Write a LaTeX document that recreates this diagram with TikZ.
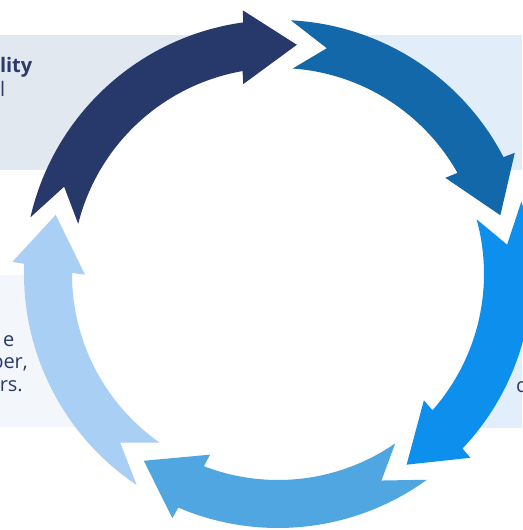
\documentclass[tikz,border=0pt]{standalone}
\usepackage{fontspec}
\setmainfont{Open Sans}
\definecolor{arrNavy}{RGB}{39,56,107}
\definecolor{arrSteel}{RGB}{18,104,168}
\definecolor{arrBright}{RGB}{13,143,237}
\definecolor{arrMid}{RGB}{79,166,224}
\definecolor{arrLight}{RGB}{170,207,245}
\definecolor{boxTL}{RGB}{225,232,240}
\definecolor{boxTR}{RGB}{225,237,248}
\definecolor{boxBL}{RGB}{243,247,252}
\definecolor{boxBR}{RGB}{226,238,251}
\definecolor{txtNavy}{RGB}{43,58,104}
% #1 colour, #2 tail angle, #3 tip angle (clockwise travel)
\newcommand\ringarrow[3]{%
  \fill[#1] (#2+0.6:254pt)
    arc[start angle=#2+0.6, end angle=#3+12.6, radius=254pt]
    -- (#3+12.3:266pt) -- (#3:230pt) -- (#3+15.1:193pt) -- (#3+14.6:206pt)
    arc[start angle=#3+14.6, end angle=#2-0.6, radius=206pt]
    -- (#2-8.7:231pt) -- cycle;}
\begin{document}
\begin{tikzpicture}[x=1pt,y=1pt,
  txt/.style={font=\fontsize{20}{24}\selectfont, text=txtNavy, inner sep=0pt}]
\useasboundingbox (0,0) rectangle (522,530);
% background boxes
\fill[boxTL] (0,360) rectangle (278,495);
\fill[boxTR] (278,360) rectangle (522,495);
\fill[boxBL] (0,103) rectangle (278,255);
\fill[boxBR] (278,102) rectangle (522,255);
% texts
\node[txt, anchor=base east, font=\fontsize{20}{24}\selectfont\bfseries] (t1) at (32.5,457.5) {lity};
\node[txt, anchor=base east] (t2) at (5.5,433) {l};
\node[txt, anchor=base east] (t3) at (14.5,183.5) {e};
\node[txt, anchor=base east] (t4) at (28,161) {ber,};
\node[txt, anchor=base east] (t5) at (23,138.5) {rs.};
\node[txt, anchor=base west] (t6) at (516,137.5) {c};
% white disc inside the ring
\fill[white] (278,256) circle[radius=254];
% ring of arrows
\begin{scope}[shift={(278,256)}]
\ringarrow{arrNavy}{166.5}{85.3}
\ringarrow{arrSteel}{86.5}{14.8}
\ringarrow{arrBright}{16}{-56}
\ringarrow{arrMid}{-54.7}{-125.7}
\ringarrow{arrLight}{-124.4}{-194.9}
\end{scope}
\end{tikzpicture}
\end{document}
